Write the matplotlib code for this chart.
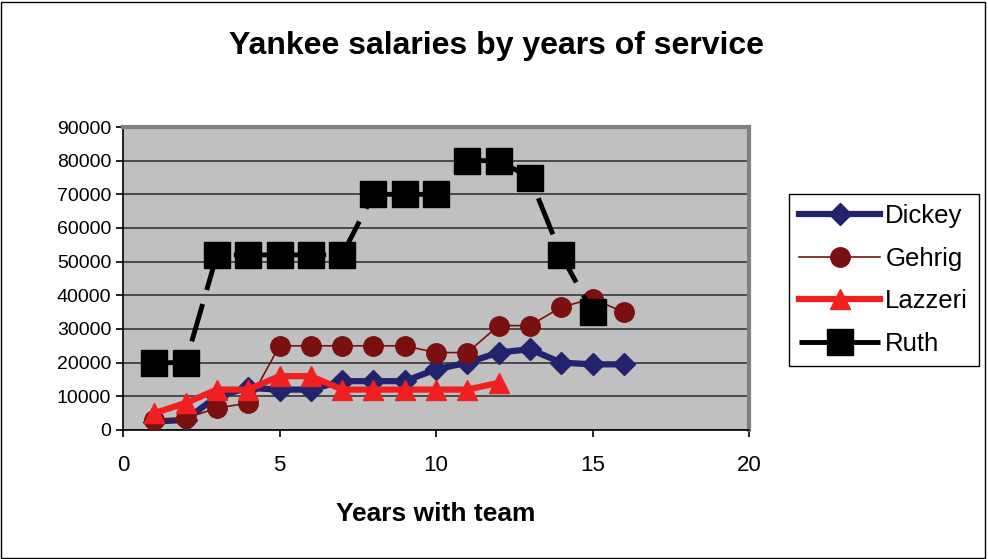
import matplotlib
matplotlib.use("Agg")
import matplotlib.pyplot as plt
from matplotlib.patches import Rectangle

plt.rcParams['font.family'] = ['Liberation Sans', 'DejaVu Sans']

# salaries (x = years with team)
dickey_years = list(range(1, 17))
dickey = [2500, 3000, 10000, 12500, 12000, 12000, 14500, 14500, 14500,
          18000, 20000, 23000, 24000, 20000, 19500, 19500]
gehrig_years = list(range(1, 17))
gehrig = [3000, 3500, 6500, 8000, 25000, 25000, 25000, 25000, 25000,
          23000, 23000, 31000, 31000, 36500, 39000, 35000]
lazzeri_years = list(range(1, 13))
lazzeri = [5000, 8000, 12000, 12000, 16000, 16000, 12000, 12000, 12000,
           12000, 12000, 14000]
ruth_years = list(range(1, 16))
ruth = [20000, 20000, 52000, 52000, 52000, 52000, 52000, 70000, 70000,
        70000, 80000, 80000, 75000, 52000, 35000]

fig = plt.figure(figsize=(9.88, 5.59), dpi=100)
fig.patch.set_facecolor('white')
fig.patches.append(Rectangle((0.001, 0.002), 0.996, 0.995, transform=fig.transFigure,
                             fill=False, edgecolor='black', linewidth=1))

ax = fig.add_axes([0.1245, 0.2308, 0.6336, 0.542])
ax.set_facecolor('#c0c0c0')

ax.plot(dickey_years, dickey, color='#22226e', lw=4.5, marker='D', ms=11,
        label='Dickey', zorder=3)
ax.plot(gehrig_years, gehrig, color='#7a1010', lw=1.2, marker='o', ms=14,
        label='Gehrig', zorder=4)
ax.plot(lazzeri_years, lazzeri, color='#f02020', lw=4.5, marker='^', ms=15,
        label='Lazzeri', zorder=5)
ax.plot(ruth_years, ruth, color='black', lw=3.5, marker='s', ms=19,
        linestyle=(0, (8, 3)), label='Ruth', zorder=6)

ax.set_xlim(0, 20)
ax.set_ylim(0, 90000)
ax.set_xticks([0, 5, 10, 15, 20])
ax.set_yticks(range(0, 90001, 10000))
ax.yaxis.grid(True, color='#404040', lw=1.3)
ax.set_axisbelow(True)
ax.tick_params(axis='both', direction='out', length=5, width=1.2, colors='black')
ax.tick_params(axis='y', labelsize=14)
ax.tick_params(axis='x', labelsize=16, pad=13)

for side in ['top', 'right']:
    ax.spines[side].set_color('#808080')
    ax.spines[side].set_linewidth(3)
for side in ['left', 'bottom']:
    ax.spines[side].set_color('black')
    ax.spines[side].set_linewidth(1.2)

ax.set_xlabel('Years with team', fontsize=19, fontweight='bold', labelpad=19)
fig.text(0.503, 0.918, 'Yankee salaries by years of service', ha='center',
         va='center', fontsize=23, fontweight='bold')

leg = fig.legend(loc='upper left', bbox_to_anchor=(0.7986, 0.653), fontsize=18.5,
                 frameon=True, fancybox=False, edgecolor='black', framealpha=1,
                 handlelength=3.15, labelspacing=0.72, borderpad=0.4,
                 handletextpad=0.2, borderaxespad=0)
leg.get_frame().set_linewidth(1)

fig.savefig('out.png', dpi=100)
